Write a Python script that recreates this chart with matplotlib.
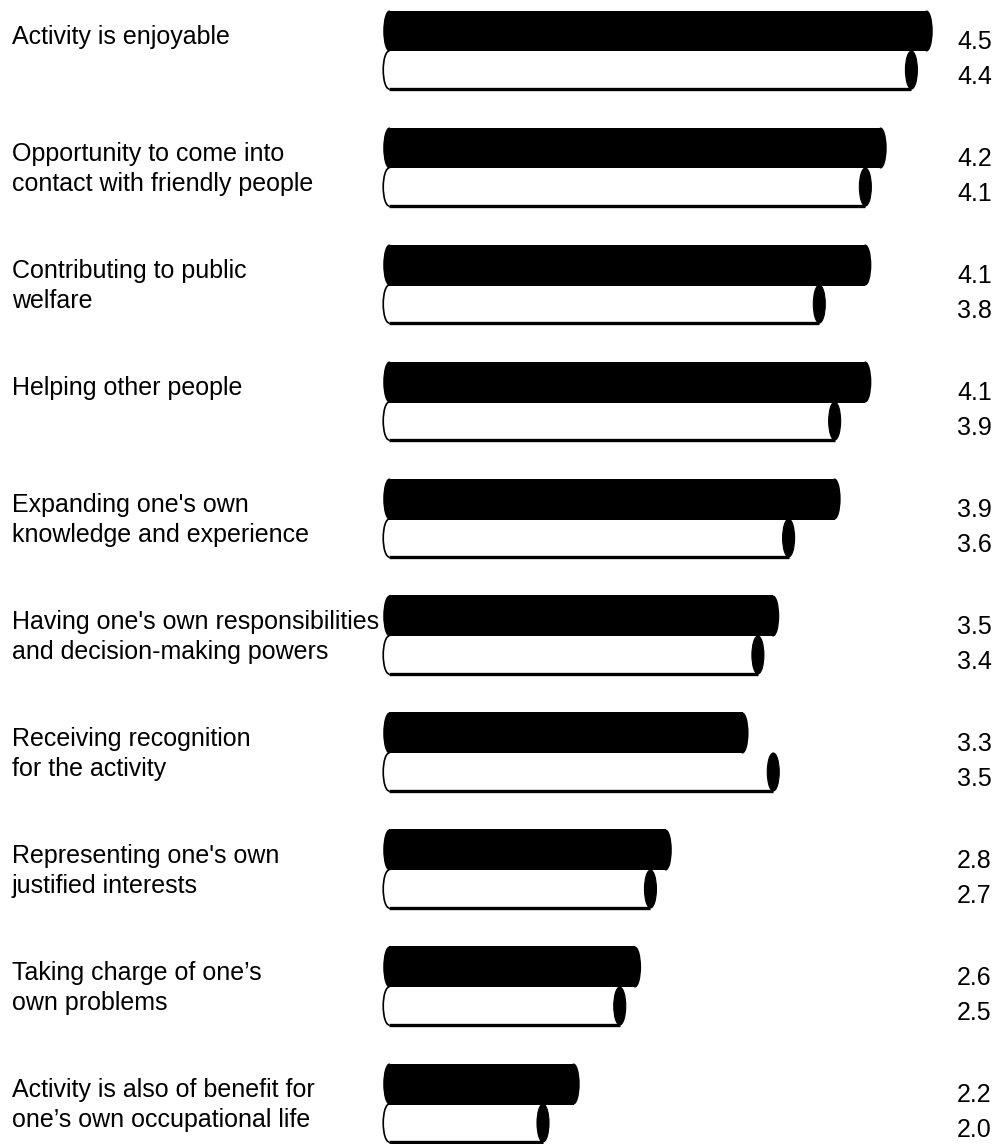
import matplotlib
matplotlib.use("Agg")
from matplotlib import pyplot as plt
from matplotlib import patches as mpatches

# data (top bar = dark series, bottom bar = light series)
labels = [
    "Activity is enjoyable",
    "Opportunity to come into\ncontact with friendly people",
    "Contributing to public\nwelfare",
    "Helping other people",
    "Expanding one's own\nknowledge and experience",
    "Having one's own responsibilities\nand decision-making powers",
    "Receiving recognition\nfor the activity",
    "Representing one's own\njustified interests",
    "Taking charge of one\u2019s\nown problems",
    "Activity is also of benefit for\none\u2019s own occupational life",
]
dark_values = [4.5, 4.2, 4.1, 4.1, 3.9, 3.5, 3.3, 2.8, 2.6, 2.2]
light_values = [4.4, 4.1, 3.8, 3.9, 3.6, 3.4, 3.5, 2.7, 2.5, 2.0]

W, H = 1005, 1144
PX_X = 153.5      # pixels per value unit
PX_Y = 117.0      # pixels per group
X0 = 242          # pixel of value 0
BASE = 0.92       # where the bars start
FONT = 18

plt.rcParams['font.family'] = ['Liberation Sans', 'DejaVu Sans']

fig = plt.figure(figsize=(W / 100, H / 100), dpi=100)
ax = fig.add_axes([0, 0, 1, 1])
ax.set_xlim(-X0 / PX_X, (W - X0) / PX_X)
ax.set_ylim((H - 31) / PX_Y, -31 / PX_Y)
ax.axis('off')


def px_y(p):
    return p / PX_Y


cap_w = 12 / PX_X
dark_h = px_y(41)
light_h = px_y(38)
trans = ax.get_yaxis_transform()

for i, (lab, dv, lv) in enumerate(zip(labels, dark_values, light_values)):
    yc = i                       # centre of the dark bar
    ly = yc + px_y(20) + light_h / 2   # centre of the light bar

    # light bar: white body with outline, dark cap at the right end
    ax.add_patch(mpatches.Ellipse((BASE + cap_w / 2, ly), cap_w, light_h,
                                  facecolor='white', edgecolor='black', lw=1.2, zorder=2))
    ax.add_patch(mpatches.Rectangle((BASE + cap_w / 2, ly - light_h / 2), lv - BASE - cap_w,
                                    light_h, facecolor='white', edgecolor='none', zorder=3))
    ax.plot([BASE + cap_w / 2, lv - cap_w / 2], [ly + light_h / 2] * 2,
            color='black', lw=2.4, zorder=4, solid_capstyle='butt')
    ax.add_patch(mpatches.Ellipse((lv - cap_w / 2, ly), cap_w, light_h,
                                  facecolor='black', edgecolor='black', lw=0.8, zorder=5))

    # dark bar: black body with rounded ends
    ax.add_patch(mpatches.Rectangle((BASE + cap_w / 2, yc - dark_h / 2), dv - BASE - cap_w,
                                    dark_h, facecolor='black', edgecolor='none', zorder=6))
    for xe in (BASE + cap_w / 2, dv - cap_w / 2):
        ax.add_patch(mpatches.Ellipse((xe, yc), cap_w, dark_h,
                                      facecolor='black', edgecolor='none', zorder=6))

    # category label
    for k, line in enumerate(lab.split("\n")):
        ax.text(12 / W, yc + px_y(13 + 30 * k), line, fontsize=FONT,
                transform=trans, ha='left', va='baseline', zorder=10)

    # values
    ax.text(957 / W, yc + px_y(18), "%.1f" % dv, fontsize=FONT,
            transform=trans, ha='left', va='baseline')
    ax.text(957 / W, yc + px_y(53), "%.1f" % lv, fontsize=FONT,
            transform=trans, ha='left', va='baseline')

fig.savefig('out.png', dpi=100)
